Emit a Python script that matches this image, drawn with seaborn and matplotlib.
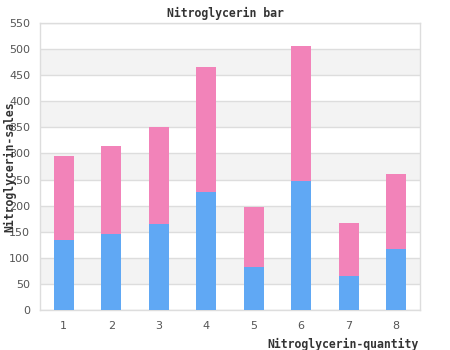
import matplotlib
matplotlib.use("Agg")
import matplotlib.pyplot as plt
import seaborn as sns
import pandas as pd

quantity = ["1", "2", "3", "4", "5", "6", "7", "8"]
sales_blue = [135, 146, 165, 227, 82, 247, 66, 117]
sales_pink = [160, 168, 185, 238, 115, 259, 101, 144]

y_ticks = [0, 50, 100, 150, 200, 250, 300, 350, 400, 450, 500, 550]

BLUE = "#60a8f4"
PINK = "#f283b9"
GRID = "#dddddd"
BAND = "#f3f3f3"
TEXT = "#555555"

sns.set_theme(style="white")
plt.rcParams["font.family"] = ["DejaVu Sans"]

df = pd.DataFrame({
    "quantity": quantity,
    "blue": sales_blue,
    "total": [b + p for b, p in zip(sales_blue, sales_pink)],
})

fig = plt.figure(figsize=(4.5, 3.5), dpi=100)
ax = fig.add_axes([40 / 450, 40 / 350, 380 / 450, 287 / 350])

# alternating horizontal bands behind the bars
for i in range(len(y_ticks) - 1):
    if i % 2 == 1:
        ax.axhspan(y_ticks[i], y_ticks[i + 1], color=BAND, zorder=0, lw=0)
for t in y_ticks:
    ax.axhline(t, color=GRID, lw=1, zorder=0.5)

sns.barplot(data=df, x="quantity", y="total", color=PINK, width=0.42,
            saturation=1, linewidth=0, ax=ax, zorder=2)
sns.barplot(data=df, x="quantity", y="blue", color=BLUE, width=0.42,
            saturation=1, linewidth=0, ax=ax, zorder=3)

ax.set_xlim(-0.5, 7.5)
ax.set_ylim(0, 550)
ax.set_yticks(y_ticks)
ax.set_xlabel("")
ax.set_ylabel("")
ax.tick_params(axis="both", length=0, labelsize=8, labelcolor=TEXT)
ax.tick_params(axis="x", pad=8)
ax.tick_params(axis="y", pad=7)
for s in ax.spines.values():
    s.set_color(GRID)
    s.set_linewidth(1)
    s.set_visible(True)

mono = {"family": "DejaVu Sans Mono", "weight": "bold", "size": 8.3, "color": "#333333"}
fig.text(0.5, 1 - 13 / 350, "Nitroglycerin bar", ha="center", va="center", **mono)
fig.text(419 / 450, 1 - 344 / 350, "Nitroglycerin-quantity", ha="right", va="center", **mono)
fig.text(10 / 450, 1 - 167 / 350, "Nitroglycerin-sales", ha="center", va="center",
         rotation=90, **mono)

fig.savefig("out.png", dpi=100)
